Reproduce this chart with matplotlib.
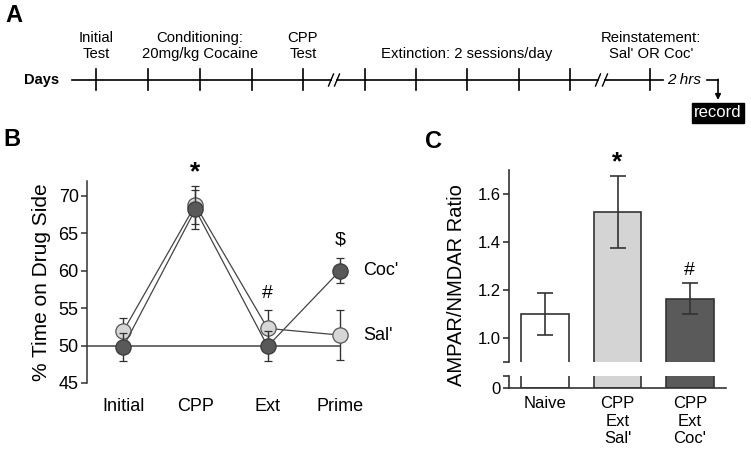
import matplotlib
matplotlib.use('Agg')
import matplotlib.pyplot as plt

plt.rcParams['font.family'] = ['Liberation Sans', 'DejaVu Sans']

# ---- panel A: timeline (drawn in pixel-like units of the figure) ----
day_ticks = [96, 148, 200, 252, 303, 365, 416, 467, 519, 570, 650]
line_segments = [(72, 331), (337, 598), (605, 663)]
break_marks = [331, 337, 598, 605]
phase_labels = ['Initial\nTest', 'Conditioning:\n20mg/kg Cocaine', 'CPP\nTest',
                'Extinction: 2 sessions/day', "Reinstatement:\nSal' OR Coc'"]
phase_x = [96, 200, 303, 467, 651]

# ---- panel B: CPP scores ----
sessions = ['Initial', 'CPP', 'Ext', 'Prime']
sal_mean = [51.9, 68.8, 52.3, 51.4]
sal_sem = [1.8, 2.5, 2.5, 3.3]
coc_mean = [49.8, 68.2, 49.9, 60.0]
coc_sem = [1.9, 2.6, 2.0, 1.7]
b_marks = ['*', '#', '$']
b_mark_idx = [1, 2, 3]
b_mark_y = [73.2, 57.0, 64.1]

# ---- panel C: AMPAR/NMDAR ratio ----
groups = ['Naive', "CPP\nExt\nSal'", "CPP\nExt\nCoc'"]
ratio_mean = [1.10, 1.525, 1.163]
ratio_sem = [0.087, 0.152, 0.065]
bar_colors = ['white', '#d4d4d4', '#5a5a5a']
c_marks = ['*', '#']
c_mark_idx = [1, 2]
c_mark_y = [1.73, 1.283]

dark = '#333333'
fig = plt.figure(figsize=(7.51, 4.58), dpi=100)

# timeline axes over whole figure
axa = fig.add_axes([0, 0, 1, 1])
axa.set_xlim(0, 751)
axa.set_ylim(458, 0)
axa.axis('off')
axa.patch.set_alpha(0)

ly = 80
for x0, x1 in line_segments:
    axa.plot([x0, x1], [ly, ly], color='black', lw=1.2)
for x in day_ticks:
    axa.plot([x, x], [69, 90], color='black', lw=1.2)
for x in break_marks:
    axa.plot([x - 2.5, x + 2.5], [86, 74], color='black', lw=1.0)
for lab, x in zip(phase_labels, phase_x):
    axa.text(x, 61, lab, ha='center', va='bottom', fontsize=10.7,
             linespacing=1.15)
axa.text(42, ly, 'Days', ha='center', va='center', fontsize=10.5,
         fontweight='bold')
axa.text(667, ly, '2 hrs', ha='left', va='center', fontsize=11,
         style='italic')
axa.plot([707, 718], [ly, ly], color='black', lw=1.2)
axa.annotate('', xy=(718, 100), xytext=(718, ly - 0.6),
             arrowprops=dict(arrowstyle='-|>', color='black', lw=1.2,
                             mutation_scale=8, shrinkA=0, shrinkB=0))
axa.text(718, 112.5, 'record', ha='center', va='center', fontsize=12,
         color='white',
         bbox=dict(boxstyle='square,pad=0.15', facecolor='black',
                   edgecolor='black'))

for lab, x, y in [('A', 14, 16), ('B', 12, 140), ('C', 434, 142)]:
    fig.text(x / 751, 1 - y / 458, lab, ha='center', va='center',
             fontsize=17, fontweight='bold')

# panel B
axb = fig.add_axes([0.1158, 0.1638, 0.3849, 0.4410])
xb = list(range(len(sessions)))
axb.hlines(50, -0.5, xb[-1], color='#444444', lw=1.1, zorder=1)
axb.errorbar(xb, sal_mean, yerr=sal_sem, fmt='-o', color='#444444', lw=0.9,
             markersize=11, markerfacecolor='#d6d6d6',
             markeredgecolor='#555555', markeredgewidth=0.9,
             ecolor='#333333', elinewidth=1.0, capsize=3, zorder=2)
axb.errorbar(xb, coc_mean, yerr=coc_sem, fmt='-o', color='#444444', lw=0.9,
             markersize=11, markerfacecolor='#595959',
             markeredgecolor='#3a3a3a', markeredgewidth=0.9,
             ecolor='#333333', elinewidth=1.0, capsize=3, zorder=3)
for m, i, y in zip(b_marks, b_mark_idx, b_mark_y):
    axb.text(xb[i], y, m, ha='center', va='center', clip_on=False,
             fontsize=19 if m == '*' else 14,
             fontweight='bold' if m == '*' else 'normal')
axb.text(3.32, coc_mean[-1], "Coc'", ha='left', va='center', fontsize=13,
         clip_on=False)
axb.text(3.32, sal_mean[-1], "Sal'", ha='left', va='center', fontsize=13,
         clip_on=False)
axb.set_xlim(-0.5, 3.5)
axb.set_ylim(45, 72)
axb.set_yticks([45, 50, 55, 60, 65, 70])
axb.set_xticks(xb)
axb.set_xticklabels(sessions)
axb.tick_params(axis='x', length=0, pad=11, labelsize=13)
axb.tick_params(axis='y', direction='out', length=4, width=1.1,
                color=dark, labelsize=13, pad=2)
for s in ['top', 'right', 'bottom']:
    axb.spines[s].set_visible(False)
axb.spines['left'].set_color(dark)
axb.spines['left'].set_linewidth(1.1)
axb.set_ylabel('% Time on Drug Side', fontsize=15, labelpad=5)
axb.patch.set_alpha(0)

# panel C, broken y axis
xc = list(range(len(groups)))
axc = fig.add_axes([0.6778, 0.2096, 0.2889, 0.4192])
axl = fig.add_axes([0.6778, 0.1528, 0.2889, 0.0262])
for ax in (axc, axl):
    ax.bar(xc, ratio_mean, width=0.66, color=bar_colors, edgecolor=dark,
           linewidth=1.2, zorder=2)
    ax.set_xlim(-0.5, 2.5)
    ax.spines['top'].set_visible(False)
    ax.spines['right'].set_visible(False)
    ax.spines['left'].set_color(dark)
    ax.spines['left'].set_linewidth(1.2)
    ax.tick_params(axis='y', direction='out', length=4, width=1.2,
                   color=dark, labelsize=12, pad=2)
    ax.patch.set_alpha(0)
axc.errorbar(xc, ratio_mean, yerr=ratio_sem, fmt='none', ecolor=dark,
             elinewidth=1.2, capsize=5.5, capthick=1.2, zorder=3)
axc.set_ylim(0.9, 1.7)
axc.set_yticks([0.9, 1.0, 1.2, 1.4, 1.6])
axc.set_yticklabels(['', '1.0', '1.2', '1.4', '1.6'])
axc.spines['bottom'].set_visible(False)
axc.set_xticks([])
for m, i, y in zip(c_marks, c_mark_idx, c_mark_y):
    axc.text(xc[i], y, m, ha='center', va='center', clip_on=False,
             fontsize=19 if m == '*' else 14,
             fontweight='bold' if m == '*' else 'normal')
axc.set_ylabel('AMPAR/NMDAR Ratio', fontsize=14.5, labelpad=6)
axc.yaxis.set_label_coords(-0.2, 0.4)

axl.set_ylim(0, 0.05)
axl.set_yticks([0, 0.05])
axl.set_yticklabels(['0', ''])
axl.spines['bottom'].set_color(dark)
axl.spines['bottom'].set_linewidth(1.2)
axl.set_xticks(xc)
axl.set_xticklabels(groups)
axl.tick_params(axis='x', length=0, pad=6, labelsize=12)

fig.savefig('out.png', dpi=100)
